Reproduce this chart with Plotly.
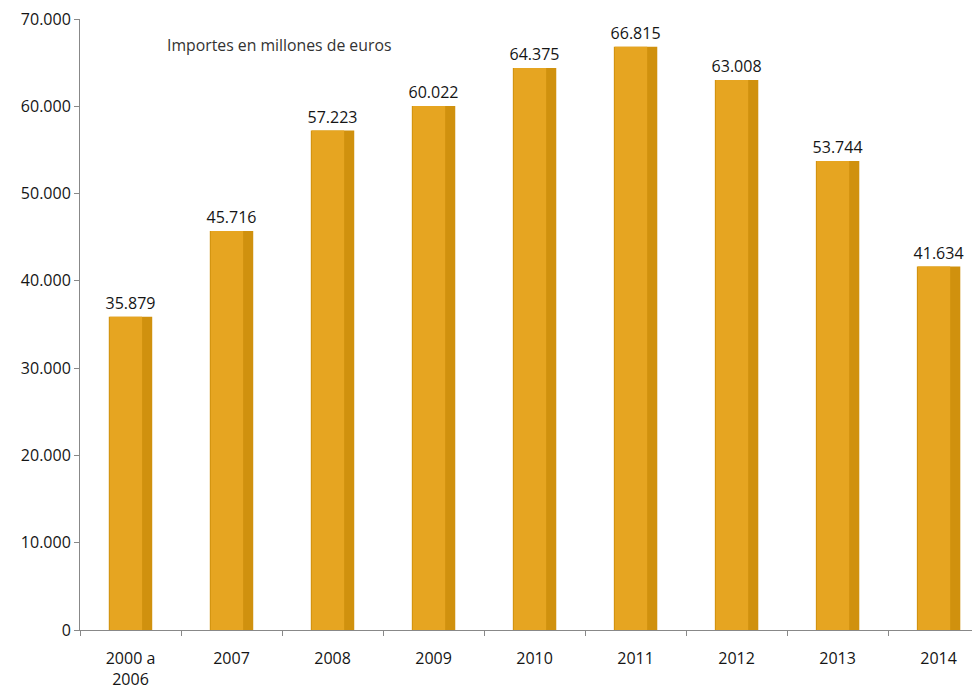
import plotly.graph_objects as go

categories = ["2000 a<br>2006", "2007", "2008", "2009", "2010", "2011", "2012", "2013", "2014"]
values = [35879, 45716, 57223, 60022, 64375, 66815, 63008, 53744, 41634]
subtitle = "Importes en millones de euros"

fig = go.Figure()
# darker base bar (right-side shading)
fig.add_trace(go.Bar(
    x=categories, y=values, width=0.43,
    marker=dict(color="#D0910E", line=dict(width=0)),
    texttemplate="%{y:,d}", textposition="outside", constraintext="none",
    textfont=dict(family="Open Sans", size=16, color="#151515"),
    cliponaxis=False, hoverinfo="skip",
))
# lighter main face
fig.add_trace(go.Bar(
    x=categories, y=values, width=0.32, offset=-0.205,
    marker=dict(color="#E6A521", line=dict(width=0)),
    hoverinfo="skip",
))

fig.update_layout(
    width=980, height=697,
    margin=dict(l=72, r=8, t=11, b=75, autoexpand=False),
    plot_bgcolor="white", paper_bgcolor="white",
    barmode="overlay", showlegend=False,
    separators=",.",
    font=dict(family="Open Sans", size=16, color="#151515"),
    annotations=[dict(
        text=subtitle, xref="paper", yref="paper", x=0.094, y=0.957,
        xanchor="left", yanchor="middle", showarrow=False,
        font=dict(family="Open Sans", size=15.8, color="#333333"),
    )],
)
fig.update_xaxes(
    type="category", range=[-0.5, 8.41], tickson="boundaries",
    ticks="outside", ticklen=5, tickcolor="#888888",
    showline=True, linecolor="#888888", linewidth=1,
    showgrid=False, automargin=False, ticklabelstandoff=14,
    ticklabeloverflow="allow",
    tickfont=dict(size=16, color="#151515"),
)
fig.update_yaxes(
    range=[0, 70000], dtick=10000, tickformat=",d",
    ticks="outside", ticklen=5, tickcolor="#888888",
    showline=True, linecolor="#888888", linewidth=1,
    showgrid=False, zeroline=False, automargin=False,
    ticklabeloverflow="allow",
    tickfont=dict(size=16, color="#151515"),
)

fig.write_html("out.html")
